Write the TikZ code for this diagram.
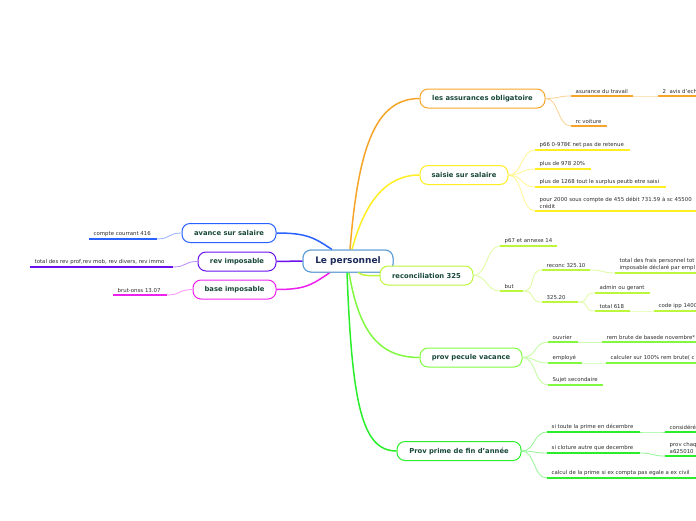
\documentclass[tikz,border=0pt]{standalone}
\usepackage{fontspec}
\setmainfont{DejaVu Sans}
\usetikzlibrary{calc}
\definecolor{cOr}{HTML}{F7A52A}
\definecolor{cYe}{HTML}{FFEE22}
\definecolor{cYg}{HTML}{BDF73C}
\definecolor{cLg}{HTML}{80FA40}
\definecolor{cGr}{HTML}{2AEE2A}
\definecolor{cBl}{HTML}{2962FF}
\definecolor{cPu}{HTML}{6A11EE}
\definecolor{cMa}{HTML}{EE22EE}
\definecolor{cRoot}{HTML}{5B9BD5}
\definecolor{nodetext}{HTML}{18473A}
\definecolor{roottext}{HTML}{1C2B5A}
\definecolor{leaftext}{HTML}{2E2E2E}
% name, x, y, underline length, colour, text
\newcommand\lf[6]{%
  \coordinate (#1s) at (#2,#3);
  \coordinate (#1e) at ($(#1s)+(#4,0)$);
  \node[leaf] (#1) at (#1s) {#6};
  \draw[ul,#5] (#1s) -- (#1e);}
\newcommand\cv[3]{\draw[lc,#1!50!white] (#2) .. controls +(14,0) and +(-14,0) .. (#3);}
\newcommand\cvl[3]{\draw[lc,#1!50!white] (#2) .. controls +(-14,0) and +(14,0) .. (#3);}
\begin{document}
\begin{tikzpicture}[x=1pt,y=-1pt,
  rootbox/.style={draw=cRoot, rounded corners=8pt, line width=1pt, fill=white, minimum width=90pt, minimum height=22pt, inner sep=0pt, font=\fontsize{9}{11}\selectfont\bfseries, text=roottext},
  mainbox/.style={draw, rounded corners=8pt, line width=1pt, fill=white, minimum height=19pt, inner sep=0pt, font=\fontsize{6.8}{8}\selectfont\bfseries, text=nodetext},
  leaf/.style={anchor=south west, inner xsep=4.5pt, inner ysep=2.5pt, font=\fontsize{5.4}{6.5}\selectfont, text=leaftext, align=left},
  ul/.style={line width=1.4pt},
  lc/.style={line width=0.8pt},
  mc/.style={line width=1.5pt}]
\path[use as bounding box] (0,0) rectangle (696,520);
\clip (0,0) rectangle (696,520);
\fill[white] (0,0) rectangle (696,520);

% root and main nodes
\node[rootbox] (root) at (348,261) {Le personnel};

\node[mainbox, draw=cOr, minimum width=125pt] (ass) at (482.5,98.5) {les assurances obligatoire};
\node[mainbox, draw=cYe, minimum width=88pt] (sal) at (464,175) {saisie sur salaire};
\node[mainbox, draw=cLg, minimum width=102pt] (pec) at (471,357.5) {prov pecule vacance};
\node[mainbox, draw=cGr, minimum width=124pt] (pri) at (459,451) {Prov prime de fin d'année};
\node[mainbox, draw=cBl, minimum width=94pt] (av) at (229,233) {avance sur salaire};
\node[mainbox, draw=cPu, minimum width=78pt] (rev) at (237,261.5) {rev imposable};
\node[mainbox, draw=cMa, minimum width=83pt] (base) at (234.5,289.5) {base imposable};

% main connectors
\draw[mc,cOr] ([xshift=2pt]root.north) .. controls +(8,-100) and +(-45,0) .. (ass.west);
\draw[mc,cYe] ([xshift=4pt]root.north) .. controls +(12,-45) and +(-35,0) .. (sal.west);
\draw[mc,cBl] ([xshift=-16pt]root.north) .. controls +(-18,-12) and +(30,0) .. (av.east);
\draw[mc,cPu] (root.west) -- (rev.east);
\draw[mc,cMa] ([xshift=-18pt]root.south) .. controls +(-18,12) and +(30,0) .. (base.east);
\draw[mc,cLg] ([xshift=1pt]root.south) .. controls +(10,60) and +(-40,0) .. (pec.west);
\draw[mc,cGr] ([xshift=-1pt]root.south) .. controls +(5,130) and +(-35,0) .. (pri.west);

% redraw root on top
\node[rootbox] (root) at (348,261) {Le personnel};
\coordinate (recin) at (380,275.5);
\draw[mc,cYg] ([xshift=10pt]root.south) .. controls +(5,4) and +(-8,0) .. (recin);
\node[mainbox, draw=cYg, minimum width=93pt] (reco) at (426.5,275.5) {reconciliation 325};

% assurances
\lf{a1}{571}{96}{62}{cOr}{asurance du travail}
\lf{a1b}{658}{96}{60}{cOr}{2\ \ avis d'ech}
\lf{a2}{571}{126}{36}{cOr}{rc voiture}
\cv{cOr}{ass.east}{a1s}
\cv{cOr}{ass.east}{a2s}
\draw[lc,cOr!30!white] (a1e) -- (a1bs);

% saisie
\lf{s1}{535}{150}{95}{cYe}{p66 0-978€ net pas de retenue}
\lf{s2}{535}{169}{56}{cYe}{plus de 978 20\%}
\lf{s3}{535}{187}{131}{cYe}{plus de 1268 tout le surplus peutb etre saisi}
\lf{s4}{535}{211}{175}{cYe}{pour 2000 sous compte de 455 débit 731.59 à sc 45500\\crédit}
\cv{cYe}{sal.east}{s1s}
\cv{cYe}{sal.east}{s2s}
\cv{cYe}{sal.east}{s3s}
\cv{cYe}{sal.east}{s4s}

% reconciliation
\lf{r1}{500}{246}{57}{cYg}{p67 et annexe 14}
\lf{r2}{500}{291}{23}{cYg}{but}
\lf{r3}{542}{270}{48}{cYg}{reconc 325.10}
\lf{r3b}{615}{273}{95}{cYg}{total des frais personnel tot\\imposable déclaré par empl}
\lf{r4}{542}{302}{36}{cYg}{325.20}
\lf{r5}{595}{293}{55}{cYg}{admin ou gerant}
\lf{r6}{595}{311}{35}{cYg}{total 618}
\lf{r6b}{654}{311}{55}{cYg}{code ipp 1400}
\cv{cYg}{reco.east}{r1s}
\cv{cYg}{reco.east}{r2s}
\cv{cYg}{r2e}{r3s}
\cv{cYg}{r2e}{r4s}
\cv{cYg}{r3e}{r3bs}
\cv{cYg}{r4e}{r5s}
\cv{cYg}{r4e}{r6s}
\draw[lc,cYg!30!white] (r6e) -- (r6bs);

% pecule
\lf{p1}{548}{342}{30}{cLg}{ouvrier}
\lf{p1b}{602}{342}{105}{cLg}{rem brute de basede novembre*}
\lf{p2}{548}{363}{34}{cLg}{employé}
\lf{p2b}{606}{363}{105}{cLg}{calculer sur 100\% rem brute( c}
\lf{p3}{548}{385}{55}{cLg}{Sujet secondaire}
\cv{cLg}{pec.east}{p1s}
\cv{cLg}{pec.east}{p2s}
\cv{cLg}{pec.east}{p3s}
\draw[lc,cLg!40!white] (p1e) -- (p1bs);
\draw[lc,cLg!30!white] (p2e) -- (p2bs);

% prime
\lf{q1}{547}{432}{93}{cGr}{si toute la prime en décembre}
\lf{q1b}{665}{432}{45}{cGr}{considéré}
\lf{q2}{547}{453}{93}{cGr}{si cloture autre que decembre}
\lf{q2b}{665}{456}{45}{cGr}{prov chaq\\a625010}
\lf{q3}{547}{478}{165}{cGr}{calcul de la prime si ex compta pas egale a ex civil}
\cv{cGr}{pri.east}{q1s}
\cv{cGr}{pri.east}{q2s}
\cv{cGr}{pri.east}{q3s}
\cv{cGr}{q1e}{q1bs}
\cv{cGr}{q2e}{q2bs}

% left side
\lf{b1}{89}{239}{68}{cBl}{compte courrant 416}
\lf{v1}{30}{267}{143}{cPu}{total des rev prof,rev mob, rev divers, rev immo}
\lf{m1}{113}{295}{54}{cMa}{brut-onss 13.07}
\cvl{cBl}{av.west}{b1e}
\cvl{cPu}{rev.west}{v1e}
\cvl{cMa}{base.west}{m1e}
\end{tikzpicture}
\end{document}
